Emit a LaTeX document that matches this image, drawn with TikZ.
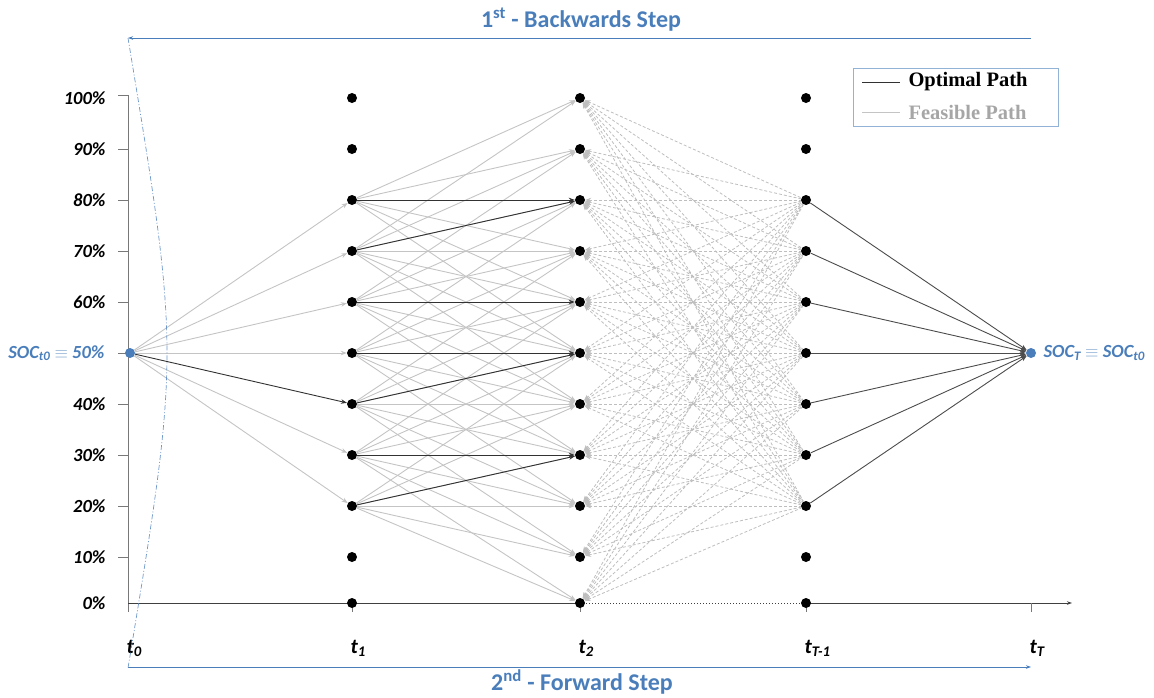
\documentclass[tikz,border=0pt]{standalone}
\usepackage{fontspec}
\setmainfont{Carlito}
\newfontfamily\legfont{Liberation Serif}
\usetikzlibrary{arrows.meta}
\definecolor{socblue}{RGB}{74,126,187}
\definecolor{feas}{RGB}{196,196,196}
\definecolor{opt}{RGB}{50,50,50}
\definecolor{dsh}{RGB}{190,190,190}
\definecolor{axisc}{RGB}{120,120,120}
\begin{document}
\begin{tikzpicture}[x=1pt,y=-1pt,
  dot/.style={circle,fill=black,inner sep=0pt,minimum size=10pt},
  bdot/.style={circle,fill=socblue,inner sep=0pt,minimum size=10pt},
  feasible/.style={draw=feas,line width=0.9pt,-{Stealth[length=6pt,width=4.5pt]}},
  optimal/.style={draw=opt,line width=0.9pt,-{Stealth[length=6pt,width=4.5pt]}},
  backedge/.style={draw=dsh,line width=0.8pt,dash pattern=on 3pt off 2pt,{Stealth[length=6pt,width=4.5pt]}-},
  ylab/.style={font=\bfseries\itshape\fontsize{18.5}{18.5}\selectfont,anchor=east},
  tlab/.style={font=\bfseries\itshape\fontsize{21}{21}\selectfont,anchor=west},
  steplab/.style={font=\bfseries\fontsize{24}{24}\selectfont,text=socblue},
  soclab/.style={font=\bfseries\itshape\fontsize{18.5}{18.5}\selectfont,text=socblue},
  legtext/.style={font=\legfont\bfseries\fontsize{20.5}{20.5}\selectfont,anchor=west},
  axisline/.style={draw=axisc,line width=1pt},
  bluearrow/.style={draw=socblue,line width=0.8pt,-{Stealth[length=5pt,width=3.5pt]}}
]
\useasboundingbox (0,0) rectangle (1154,697);

% axes
\coordinate (yaxtop) at (128,95);
\coordinate (origin) at (128,612);
\coordinate (ax0) at (128,603);
\coordinate (ax2) at (580,603);
\coordinate (ax3) at (806,603);
\coordinate (axend) at (1072,603);
\draw[axisline] (yaxtop) -- (origin);
\draw[axisline,draw=black!75] (ax0) -- (ax2);
\draw[axisline,draw=black!75,dotted] (ax2) -- (ax3);
\draw[axisline,draw=black!75,-{Stealth[length=5pt,width=3.5pt]}] (ax3) -- (axend);
\foreach \n/\x in {1/352,2/580,3/806,4/1031}{
  \coordinate (tk\n a) at (\x,603);
  \coordinate (tk\n b) at (\x,612);
  \draw[axisline] (tk\n a) -- (tk\n b);
}

% y labels and ticks
\foreach \y/\l in {98/100,149/90,200/80,251/70,302/60,404/40,455/30,506/20,557/10,603/0}{
  \node[ylab] (yl\l) at (109,\y) {\l\%};
}
\foreach \y in {95,149,200,251,302,353,404,455,506,557}{
  \coordinate (ytl\y) at (118,\y);
  \coordinate (ytr\y) at (128,\y);
  \draw[axisline] (ytl\y) -- (ytr\y);
}

% time labels
\node[tlab] (lt0) at (123,648) {t\textsubscript{0}};
\node[tlab] (lt1) at (347,648) {t\textsubscript{1}};
\node[tlab] (lt2) at (575,648) {t\textsubscript{2}};
\node[tlab] (lt3) at (801,648) {t\textsubscript{T-1}};
\node[tlab] (lt4) at (1026,648) {t\textsubscript{T}};

% nodes
\node[bdot] (s0) at (130,353) {};
\node[bdot] (sT) at (1031,353) {};
\foreach \k/\y in {0/603,1/557,2/506,3/455,4/404,5/353,6/302,7/251,8/200,9/149,10/98}{
  \node[dot] (a\k) at (352,\y) {};
  \node[dot] (b\k) at (580,\y) {};
  \node[dot] (c\k) at (806,\y) {};
}

% t0 -> t1
\foreach \i in {2,3,5,6,7,8}{ \draw[feasible] (s0) -- (a\i); }
\draw[optimal] (s0) -- (a4);

% t1 -> t2
\foreach \i in {2,...,8}{
  \foreach \j in {0,...,10}{
    \pgfmathtruncatemacro\dd{abs(\i-\j)}
    \ifnum\dd<4 \draw[feasible] (a\i) -- (b\j); \fi
  }
}
\foreach \i/\j in {8/8,7/8,6/6,5/5,4/5,3/3,2/3}{ \draw[optimal] (a\i) -- (b\j); }

% t2 <- tT-1
\foreach \j in {0,...,10}{
  \foreach \i in {2,...,8}{ \draw[backedge] (b\j) -- (c\i); }
}

% tT-1 -> tT
\foreach \i in {2,...,8}{ \draw[optimal,draw=black!70,-{Stealth[length=6pt,width=4.5pt]}] (c\i) -- (sT); }

% SOC labels
\node[soclab,anchor=east] (soclab0) at (108,353) {SOC\textsubscript{t0} \textcolor{socblue!70}{$\equiv$} 50\%};
\node[soclab,anchor=west] (soclabT) at (1040,353) {SOC\textsubscript{T} \textcolor{socblue!70}{$\equiv$} SOC\textsubscript{t0}};

% steps
\coordinate (bk1) at (1031,38);
\coordinate (bk0) at (128,38);
\draw[bluearrow] (bk1) -- (bk0);
\node[steplab] (bktitle) at (581,20) {1\textsuperscript{st} - Backwards Step};
\coordinate (fw0) at (128,667);
\coordinate (fw1) at (1031,667);
\draw[bluearrow] (fw0) -- (fw1);
\node[steplab] (fwtitle) at (582,682) {2\textsuperscript{nd} - Forward Step};
\coordinate (arcb) at (128,668);
\draw[socblue!80,line width=0.7pt,dash pattern=on 5pt off 2pt on 1pt off 2pt] (bk0) .. controls (180,353) .. (arcb);

% legend
\node[draw=socblue!60,line width=0.8pt,minimum width=205pt,minimum height=58pt,inner sep=0pt] (leg) at (955.5,97) {};
\coordinate (lo0) at (862,82);
\coordinate (lo1) at (900,82);
\coordinate (lf0) at (862,112);
\coordinate (lf1) at (900,112);
\draw[opt,line width=0.9pt] (lo0) -- (lo1);
\draw[feas,line width=0.9pt] (lf0) -- (lf1);
\node[legtext] (legopt) at (905,82) {Optimal Path};
\node[legtext,text=black!35] (legfeas) at (905,112) {Feasible Path};
\end{tikzpicture}
\end{document}
